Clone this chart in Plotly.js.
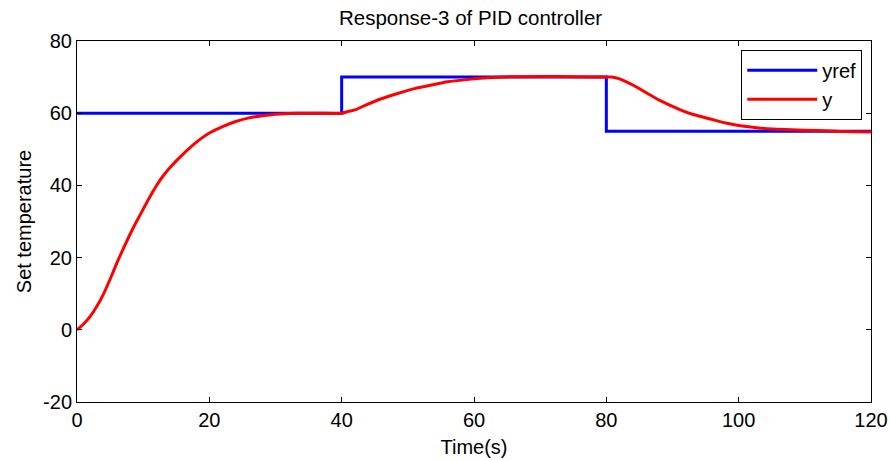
<!DOCTYPE html>
<html>
<head>
<meta charset="utf-8">
<script src="https://cdn.plot.ly/plotly-3.0.1.min.js"></script>
<style>html,body{margin:0;padding:0;background:#fff;}#chart{width:890px;height:460px;}</style>
</head>
<body>
<div id="chart"></div>
<script>
// reference signal (step set-points)
var refTime = [0, 40, 40, 80, 80, 120];
var refTemp = [60, 60, 70, 70, 55, 55];

// measured response y
var outTime = [0, 1, 2, 3, 4, 5, 6, 7, 8, 9, 10, 11, 12, 13, 14, 15, 16, 17, 18, 19, 20, 22, 24, 26, 28, 30, 33, 36, 40,
  41, 42, 43.7, 46, 48.7, 51, 53.8, 56, 58.8, 62, 65.4, 70, 75, 80,
  80.8, 82, 84, 86.1, 88, 91.1, 93, 96.1, 98, 101.2, 103, 105.2, 108, 110, 113.8, 116, 120];
var outTemp = [0, 1.6, 3.7, 6.5, 9.9, 14.0, 18.4, 22.5, 26.4, 30.0, 33.4, 36.8, 39.9, 42.6, 44.8, 46.8, 48.6, 50.3, 51.9, 53.3, 54.5, 56.3, 57.7, 58.7, 59.3, 59.7, 60, 60, 60,
  60.5, 60.9, 62.3, 64, 65.6, 66.8, 67.9, 68.7, 69.3, 69.8, 70.1, 70.2, 70.1, 70,
  70, 69.5, 67.8, 65.6, 63.6, 61, 59.7, 58.2, 57.3, 56.3, 55.9, 55.6, 55.4, 55.3, 55.1, 54.9, 54.8];

// tick labels
var xTickVals = [0, 20, 40, 60, 80, 100, 120];
var xTickText = ['0', '20', '40', '60', '80', '100', '120'];
var yTickVals = [-20, 0, 20, 40, 60, 80];
var yTickText = ['-20', '0', '20', '40', '60', '80'];

var font = 'Arial, "Liberation Sans", sans-serif';

var traces = [
  {x: refTime, y: refTemp, name: 'yref', mode: 'lines', line: {color: '#0000ff', width: 3}},
  {x: outTime, y: outTemp, name: 'y', mode: 'lines', line: {color: '#ff0000', width: 3, shape: 'spline', smoothing: 0.6}}
];

var axisCommon = {
  showline: true, linecolor: '#000', linewidth: 1, mirror: 'ticks',
  ticks: 'inside', ticklen: 5, tickcolor: '#000', tickwidth: 1,
  showgrid: false, zeroline: false,
  tickfont: {family: font, size: 20, color: '#000'}
};

var layout = {
  width: 890, height: 460,
  margin: {l: 77, r: 19, t: 41, b: 58},
  paper_bgcolor: '#fff', plot_bgcolor: '#fff',
  title: {text: 'Response-3 of PID controller', font: {family: font, size: 20.5, color: '#000'},
          x: 0.5287, xanchor: 'center', y: 1 - 18/460, yanchor: 'middle'},
  xaxis: Object.assign({}, axisCommon, {range: [0, 120], tickmode: 'array', tickvals: xTickVals, ticktext: xTickText,
          title: {text: 'Time(s)', font: {family: font, size: 20, color: '#000'}, standoff: 9}}),
  yaxis: Object.assign({}, axisCommon, {range: [-20, 80], tickmode: 'array', tickvals: yTickVals, ticktext: yTickText,
          title: {text: 'Set temperature', font: {family: font, size: 20, color: '#000'}, standoff: 6}}),
  showlegend: true,
  legend: {x: 0.989, xanchor: 'right', y: 0.976, yanchor: 'top', bgcolor: '#fff',
           bordercolor: '#000', borderwidth: 1, itemwidth: 70,
           font: {family: font, size: 20, color: '#000'}}
};

Plotly.newPlot('chart', traces, layout, {displayModeBar: false, staticPlot: true});
</script>
</body>
</html>
